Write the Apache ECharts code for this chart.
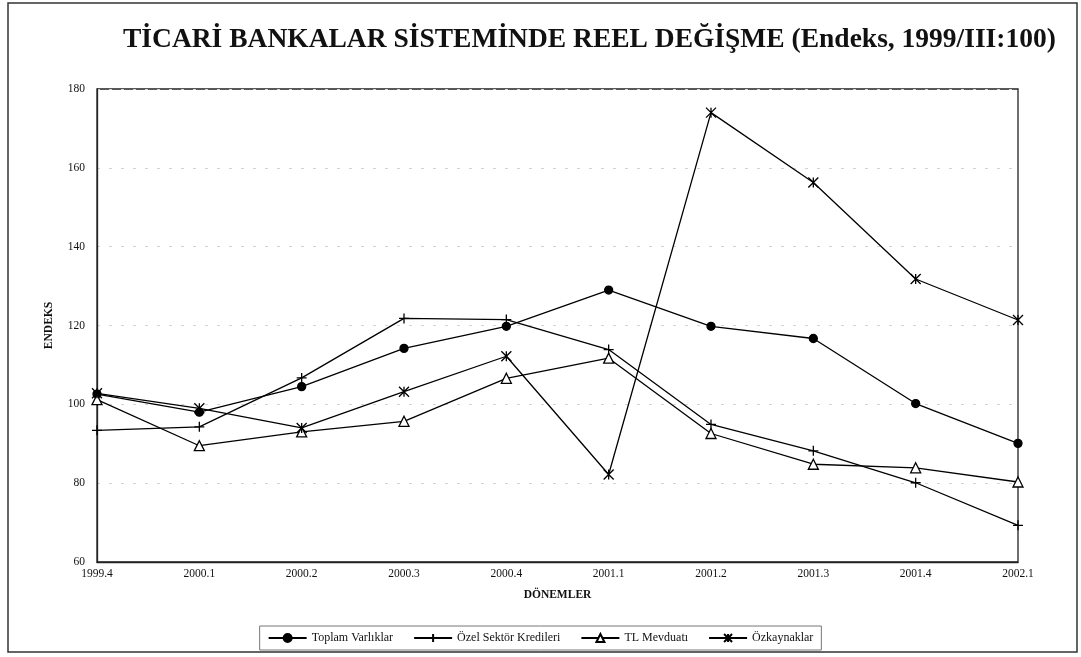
<!DOCTYPE html>
<html><head><meta charset="utf-8">
<script src="https://cdn.jsdelivr.net/npm/echarts@6/dist/echarts.min.js"></script>
<style>html,body{margin:0;padding:0;background:#fff}#c{width:1081px;height:657px}</style>
</head><body><div id="c"></div>
<script>
const categories = ['1999.4','2000.1','2000.2','2000.3','2000.4','2001.1','2001.2','2001.3','2001.4','2002.1'];
const toplamVarliklar = [102.6, 98.0, 104.5, 114.2, 119.8, 129.0, 119.8, 116.7, 100.2, 90.1];
const ozelSektorKredileri = [93.4, 94.3, 106.7, 121.8, 121.5, 113.9, 94.9, 88.2, 80.1, 69.3];
const tlMevduati = [101.2, 89.5, 93.0, 95.7, 106.6, 111.7, 92.6, 84.8, 83.9, 80.3];
const ozkaynaklar = [102.8, 99.0, 94.0, 103.2, 112.2, 82.2, 174.0, 156.3, 131.8, 121.4];
const seriesNames = ['Toplam Varlıklar','Özel Sektör Kredileri','TL Mevduatı','Özkaynaklar'];

const serif = '"Liberation Serif", "DejaVu Serif", serif';
const chart = echarts.init(document.getElementById('c'));
const plusPath = 'path://M5,0L5,10M0,5L10,5';
const starPath = 'path://M0,0L10,10M10,0L0,10M5,0L5,10';
function mk(name, data, symbol, size, fill){
  return {
    name, type:'line', data, symbol, symbolSize:size, showAllSymbol:true,
    lineStyle:{color:'#000', width:1.3},
    itemStyle:{color:fill, borderColor:'#000', borderWidth:1.3},
    emphasis:{disabled:true}, animation:false
  };
}
chart.setOption({
  animation:false,
  title:{text:'TİCARİ BANKALAR SİSTEMİNDE REEL DEĞİŞME (Endeks, 1999/III:100)', left:118, top:21,
    textStyle:{fontFamily:serif, fontWeight:'bold', fontSize:27.5, color:'#111'}},
  graphic:[{type:'rect', shape:{x:8,y:3,width:1069,height:649}, style:{fill:'none', stroke:'#333', lineWidth:1.5}, silent:true}],
  legend:{bottom:7, left:'center', itemWidth:38, itemHeight:10, itemGap:20,
    borderColor:'#777', borderWidth:1, padding:[6,8],
    textStyle:{fontFamily:serif, fontSize:12, color:'#111'}, data:seriesNames},
  grid:{left:97, right:63, top:89, bottom:95, show:true, borderColor:'#222', borderWidth:1.3},
  xAxis:{type:'category', data:categories, boundaryGap:false,
    name:'DÖNEMLER', nameLocation:'middle', nameGap:27,
    nameTextStyle:{fontFamily:serif, fontWeight:'bold', fontSize:11.5, color:'#111'},
    axisLine:{lineStyle:{color:'#222', width:1.3}}, axisTick:{show:false},
    axisLabel:{fontFamily:serif, fontSize:11.5, color:'#111', margin:6}},
  yAxis:{type:'value', min:60, max:180, interval:20,
    name:'ENDEKS', nameLocation:'middle', nameGap:42, nameRotate:90,
    nameTextStyle:{fontFamily:serif, fontWeight:'bold', fontSize:11.5, color:'#111'},
    axisLine:{show:true, lineStyle:{color:'#222', width:1.3}}, axisTick:{show:false},
    axisLabel:{fontFamily:serif, fontSize:11.5, color:'#111', margin:12},
    splitLine:{show:true, lineStyle:{color:'#d4d4d4', type:[3,9], width:1}}},
  series:[
    mk(seriesNames[0], toplamVarliklar, 'circle', 8, '#000'),
    mk(seriesNames[1], ozelSektorKredileri, plusPath, 10, '#000'),
    mk(seriesNames[2], tlMevduati, 'triangle', 10, '#fff'),
    mk(seriesNames[3], ozkaynaklar, starPath, 10, '#000')
  ]
});
</script></body></html>
